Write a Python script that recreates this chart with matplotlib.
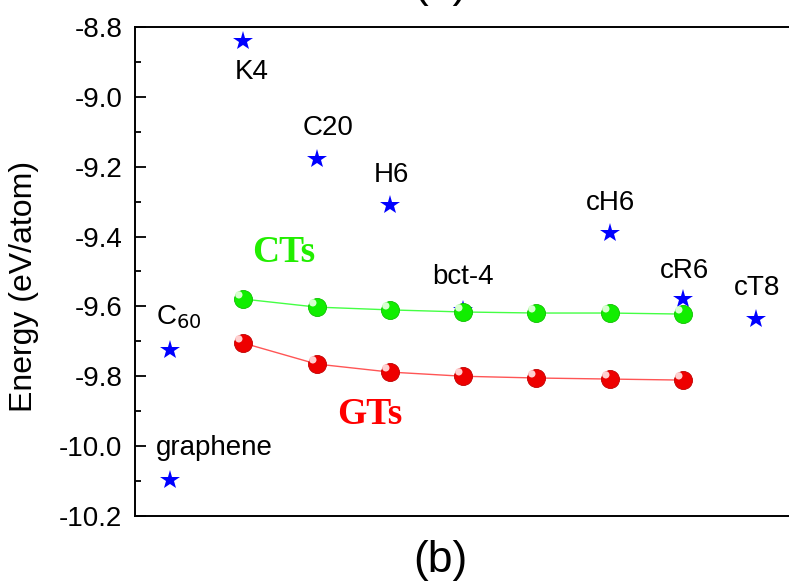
import matplotlib
matplotlib.use('Agg')
import matplotlib.pyplot as plt
from matplotlib.path import Path
from matplotlib.ticker import MultipleLocator, FormatStrFormatter

plt.rcParams['font.family'] = ['Liberation Sans', 'DejaVu Sans']

# reference structures (blue stars)
ref_names = ['C$_{60}$', 'graphene', 'K4', 'C20', 'H6', 'bct-4', 'cH6', 'cR6', 'cT8']
ref_x = [0, 0, 1, 2, 3, 4, 6, 7, 8]
ref_e = [-9.725, -10.097, -8.84, -9.178, -9.31, -9.61, -9.39, -9.58, -9.636]

# tube series
tube_x = [1, 2, 3, 4, 5, 6, 7]
cts_e = [-9.579, -9.602, -9.610, -9.616, -9.619, -9.619, -9.622]
gts_e = [-9.705, -9.765, -9.788, -9.800, -9.805, -9.808, -9.811]

# label offsets in points (dx, dy, ha)
label_off = {
    'C$_{60}$': (-10, 14, 'left'),
    'graphene': (-10, 14, 'left'),
    'K4': (6, -13, 'center'),
    'C20': (8, 13, 'center'),
    'H6': (1, 12, 'center'),
    'bct-4': (0, 14, 'center'),
    'cH6': (1, 12, 'center'),
    'cR6': (1, 11, 'center'),
    'cT8': (1, 13, 'center'),
}

fig = plt.figure(figsize=(7.89, 5.86), dpi=100)
ax = fig.add_axes([0.171, 0.1195, 0.829, 0.8345])

ax.plot(tube_x, cts_e, '-', color='#44ff44', lw=1.0, zorder=2)
ax.plot(tube_x, gts_e, '-', color='#ff5555', lw=1.0, zorder=2)

# shiny balls: base circle + offset highlight
circ = Path.circle(center=(-0.28, 0.28), radius=0.22)
ax.plot(tube_x, cts_e, 'o', ms=13, color='#11ee00', mec='#0fc000', mew=0.6, zorder=3)
ax.plot(tube_x, gts_e, 'o', ms=13, color='#ee0000', mec='#c00000', mew=0.6, zorder=3)
ax.plot(tube_x, cts_e, ls='none', marker=circ, ms=12, color='#d8ffd0', mew=0, zorder=4)
ax.plot(tube_x, gts_e, ls='none', marker=circ, ms=12, color='#ffd0d0', mew=0, zorder=4)

ax.plot(ref_x, ref_e, '*', ms=15, color='#0000ff', mew=0, zorder=2.5)

for name, x, e in zip(ref_names, ref_x, ref_e):
    dx, dy, ha = label_off[name]
    va = 'bottom' if dy > 0 else 'top'
    ax.annotate(name, (x, e), xytext=(dx, dy), textcoords='offset points',
                ha=ha, va=va, fontsize=20)

ax.text(1.55, -9.447, 'CTs', color='#22ee00', fontsize=27, fontweight='bold',
        family='Liberation Serif', ha='center', va='center')
ax.text(2.72, -9.91, 'GTs', color='#ff0000', fontsize=27, fontweight='bold',
        family='Liberation Serif', ha='center', va='center')

ax.set_xlim(-0.48, 8.45)
ax.set_ylim(-10.2, -8.8)
ax.set_xticks([])
ax.yaxis.set_major_locator(MultipleLocator(0.2))
ax.yaxis.set_minor_locator(MultipleLocator(0.1))
ax.yaxis.set_major_formatter(FormatStrFormatter('%.1f'))
ax.tick_params(axis='y', which='major', direction='in', length=8, width=1.3, labelsize=20, pad=9)
ax.tick_params(axis='y', which='minor', direction='in', length=4, width=1.3)
ax.spines['right'].set_visible(False)
for s in ['left', 'top', 'bottom']:
    ax.spines[s].set_linewidth(1.4)
ax.set_ylabel('Energy (eV/atom)', fontsize=23)
ax.yaxis.set_label_coords(-0.146, 0.47)

fig.text(0.558, 0.044, '(b)', fontsize=32, ha='center', va='center')
fig.text(0.558, 1.025, '(a)', fontsize=32, ha='center', va='center')

fig.savefig('out.png', dpi=100)
